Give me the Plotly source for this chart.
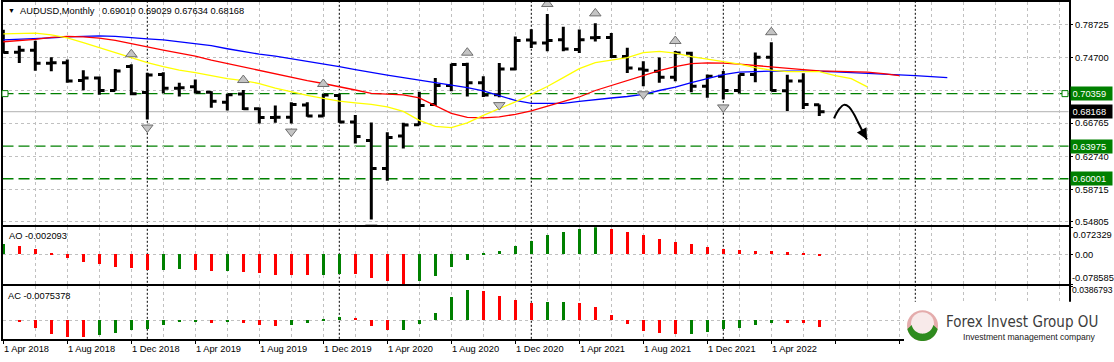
import math
import plotly.graph_objects as go

# ---------------- data ----------------
months = ["Apr 2018", "May 2018", "Jun 2018", "Jul 2018", "Aug 2018", "Sep 2018", "Oct 2018", "Nov 2018", "Dec 2018",
          "Jan 2019", "Feb 2019", "Mar 2019", "Apr 2019", "May 2019", "Jun 2019", "Jul 2019", "Aug 2019", "Sep 2019",
          "Oct 2019", "Nov 2019", "Dec 2019", "Jan 2020", "Feb 2020", "Mar 2020", "Apr 2020", "May 2020", "Jun 2020",
          "Jul 2020", "Aug 2020", "Sep 2020", "Oct 2020", "Nov 2020", "Dec 2020", "Jan 2021", "Feb 2021", "Mar 2021",
          "Apr 2021", "May 2021", "Jun 2021", "Jul 2021", "Aug 2021", "Sep 2021", "Oct 2021", "Nov 2021", "Dec 2021",
          "Jan 2022", "Feb 2022", "Mar 2022", "Apr 2022", "May 2022", "Jun 2022", "Jul 2022"]

opens = [0.7690, 0.7540, 0.7565, 0.7405, 0.7412, 0.7195, 0.7225, 0.7075, 0.7365,
         0.7050, 0.7268, 0.7100, 0.7120, 0.7054, 0.6932, 0.7030, 0.6853, 0.6744,
         0.6750, 0.6899, 0.6763, 0.7014, 0.6691, 0.6465, 0.6126, 0.6521, 0.6656,
         0.6905, 0.7135, 0.7389, 0.7167, 0.7022, 0.7336, 0.7688, 0.7651, 0.7692,
         0.7574, 0.7715, 0.7719, 0.7489, 0.7335, 0.7308, 0.7235, 0.7526, 0.7126,
         0.7247, 0.7074, 0.7268, 0.7477, 0.7070, 0.7190, 0.69010]
highs = [0.7812, 0.7618, 0.7680, 0.7480, 0.7452, 0.7320, 0.7245, 0.7336, 0.7394,
         0.7290, 0.7296, 0.7168, 0.7207, 0.7064, 0.7030, 0.7080, 0.6866, 0.6890,
         0.6930, 0.6930, 0.7032, 0.7031, 0.6775, 0.6685, 0.6565, 0.6683, 0.7060,
         0.7225, 0.7400, 0.7413, 0.7247, 0.7409, 0.7731, 0.7820, 0.8005, 0.7850,
         0.7815, 0.7891, 0.7775, 0.7595, 0.7429, 0.7475, 0.7555, 0.7545, 0.7270,
         0.7310, 0.7268, 0.7537, 0.7662, 0.7266, 0.7283, 0.69029]
lows = [0.7530, 0.7409, 0.7315, 0.7308, 0.7168, 0.7078, 0.7023, 0.7070, 0.7015,
        0.6720, 0.7040, 0.7000, 0.7040, 0.6865, 0.6832, 0.6836, 0.6671, 0.6683,
        0.6671, 0.6756, 0.6756, 0.6683, 0.6430, 0.5506, 0.5977, 0.6368, 0.6650,
        0.6884, 0.7066, 0.7000, 0.6995, 0.6993, 0.7320, 0.7590, 0.7550, 0.7550,
        0.7530, 0.7671, 0.7469, 0.7288, 0.7125, 0.7167, 0.7187, 0.7054, 0.6986,
        0.6965, 0.7038, 0.7175, 0.7066, 0.6826, 0.6850, 0.67634]
closes = [0.7537, 0.7565, 0.7405, 0.7412, 0.7190, 0.7225, 0.7075, 0.7312, 0.7035,
          0.7262, 0.7100, 0.7106, 0.7054, 0.6944, 0.7022, 0.6852, 0.6744, 0.6750,
          0.6905, 0.6763, 0.7018, 0.6691, 0.6514, 0.6126, 0.6502, 0.6654, 0.6892,
          0.7135, 0.7389, 0.7167, 0.7018, 0.7336, 0.7683, 0.7651, 0.7683, 0.7578,
          0.7692, 0.7719, 0.7489, 0.7349, 0.7320, 0.7235, 0.7530, 0.7126, 0.7247,
          0.7074, 0.7268, 0.7477, 0.7074, 0.7190, 0.6905, 0.68168]

# Alligator lines (jaw shifted 8 bars, teeth 5, lips 3 into the future)
jaw_blue = [0.7691, 0.7697, 0.7703, 0.7715, 0.7727, 0.7733, 0.7739, 0.7733, 0.7715, 0.7703,
            0.7691, 0.7667, 0.7649, 0.7619, 0.7582, 0.7546, 0.7516, 0.7491, 0.7461, 0.7431,
            0.7401, 0.7365, 0.7328, 0.7292, 0.7262, 0.7231, 0.7201, 0.7171, 0.7141, 0.7110,
            0.7068, 0.7014, 0.6953, 0.6917, 0.6917, 0.6917, 0.6941, 0.6965, 0.6983, 0.7001,
            0.7026, 0.7074, 0.7116, 0.7171, 0.7219, 0.7268, 0.7298, 0.7308, 0.7310, 0.7310,
            0.7310, 0.7308, 0.7300, 0.7292, 0.7286, 0.7280, 0.7268, 0.7255, 0.7243, 0.7231]
teeth_red = [0.7667, 0.7679, 0.7697, 0.7721, 0.7733, 0.7727, 0.7712, 0.7685, 0.7643, 0.7600,
             0.7564, 0.7528, 0.7491, 0.7443, 0.7401, 0.7358, 0.7316, 0.7274, 0.7237, 0.7195,
             0.7159, 0.7123, 0.7080, 0.7038, 0.7032, 0.7020, 0.6983, 0.6892, 0.6796, 0.6747,
             0.6741, 0.6753, 0.6784, 0.6826, 0.6880, 0.6935, 0.6995, 0.7074, 0.7135, 0.7195,
             0.7262, 0.7316, 0.7365, 0.7401, 0.7409, 0.7407, 0.7395, 0.7376, 0.7364, 0.7346,
             0.7328, 0.7312, 0.7309, 0.7306, 0.7298, 0.7280, 0.7255]
lips_yellow = [0.7764, 0.7772, 0.7772, 0.7752, 0.7715, 0.7655, 0.7594, 0.7534, 0.7473, 0.7413,
               0.7365, 0.7322, 0.7292, 0.7256, 0.7219, 0.7195, 0.7159, 0.7104, 0.7056, 0.7014,
               0.6977, 0.6945, 0.6923, 0.6905, 0.6874, 0.6820, 0.6711, 0.6638, 0.6623, 0.6681,
               0.6771, 0.6850, 0.6935, 0.7026, 0.7123, 0.7231, 0.7340, 0.7413, 0.7443, 0.7473,
               0.7534, 0.7549, 0.7528, 0.7485, 0.7455, 0.7425, 0.7395, 0.7352, 0.7322, 0.7304,
               0.7304, 0.7304, 0.7255, 0.7219, 0.7119]

ao_values = [0.0272, 0.0219, 0.0140, 0.0045, -0.0088, -0.0210, -0.0264, -0.0343, -0.0370, -0.0430,
             -0.0420, -0.0400, -0.0425, -0.0449, -0.0440, -0.0475, -0.0501, -0.0554, -0.0556, -0.0558,
             -0.0552, -0.0528, -0.0530, -0.0633, -0.0704, -0.078585, -0.0704, -0.0572, -0.0334, -0.0150,
             0.0020, 0.0088, 0.0220, 0.0360, 0.0500, 0.0580, 0.0660, 0.072329, 0.0680, 0.0600,
             0.0500, 0.0400, 0.0330, 0.0260, 0.0190, 0.0140, 0.0115, 0.0088, 0.0080, 0.0053,
             0.0035, -0.002093]
ac_values = [0.0, -0.0023, -0.0090, -0.0158, -0.0192, -0.0195, -0.0166, -0.0147, -0.0109, -0.0098,
             -0.0056, -0.0023, -0.0015, -0.0034, -0.0023, -0.0034, -0.0060, -0.0068, -0.0056, -0.0034,
             0.0003, 0.0030, 0.0023, -0.0068, -0.0113, -0.0110, -0.0045, 0.0079, 0.0259, 0.0338,
             0.0327, 0.0271, 0.0225, 0.0192, 0.0203, 0.0205, 0.0190, 0.0147, 0.0056, -0.0045,
             -0.0124, -0.0147, -0.0158, -0.0155, -0.0135, -0.0101, -0.0090, -0.0056, -0.0034, -0.0036,
             -0.0038, -0.0075378]

up_fractal_idx = [8, 15, 20, 29, 34, 37, 42, 48]
down_fractal_idx = [9, 18, 23, 31, 40, 45]

price_ticks = [0.78725, 0.74700, 0.70690, 0.66765, 0.62740, 0.58715, 0.54805]
price_tick_text = ["0.78725", "0.74700", "", "0.66765", "0.62740", "0.58715", "0.54805"]
level_lines = [0.70359, 0.63975, 0.60001]
bid_price = 0.68168
ao_max, ao_min = 0.072329, -0.078585
ac_max = 0.0386793
header_symbol = "AUDUSD,Monthly"
header_values = "0.69010 0.69029 0.67634 0.68168"
ao_label = "AO -0.002093"
ac_label = "AC -0.0075378"

# hand-drawn forecast curve (bar index, price)
forecast_x = [51.92, 52.23, 52.54, 52.86, 53.17, 53.48, 53.80]
forecast_y = [0.6735, 0.6844, 0.6899, 0.6874, 0.6784, 0.6663, 0.6542]
forecast_tip = (53.98, 0.6478)

# ---------------- geometry / style ----------------
W, H = 1114, 362
FONT = "Liberation Sans, Arial, sans-serif"
FS = 9.3
GRID = "#c0c0c0"
GREEN = "#008000"
RED = "#ff0000"


def ppy(px):
    return 1 - px / H


def ppx(px):
    return px / W


X_L, X_R = 2.5, 1068.5
BAR_PX = 16.0
x_lo = -0.05
x_hi = x_lo + (X_R - X_L) / BAR_PX
MAIN = (2.0, 226.0)
AO_P = (228.5, 285.7)
AC_P = (287.7, 340.7)
price_range = [0.54406, 0.81508]
ac_range = [-0.02109, ac_max]
px_per_price = (MAIN[1] - MAIN[0]) / (price_range[1] - price_range[0])

idx = list(range(len(months)))

fig = go.Figure()

# Alligator lines
for vals, col in [(jaw_blue, "#0000ff"), (teeth_red, "#ff0000"), (lips_yellow, "#ffff00")]:
    fig.add_trace(go.Scatter(x=list(range(len(vals))), y=vals, mode="lines",
                             line=dict(color=col, width=1.3), xaxis="x", yaxis="y", hoverinfo="skip"))

# price bars
fig.add_trace(go.Ohlc(x=idx, open=opens, high=highs, low=lows, close=closes,
                      increasing=dict(line=dict(color="black", width=3)),
                      decreasing=dict(line=dict(color="black", width=3)),
                      tickwidth=0.33, xaxis="x", yaxis="y", hoverinfo="skip"))

# fractals
up_off = 10 / px_per_price
dn_off = 8 / px_per_price
fig.add_trace(go.Scatter(x=up_fractal_idx, y=[highs[i] + up_off for i in up_fractal_idx], mode="markers",
                         marker=dict(symbol="triangle-up", size=10, color="#c4c4c4",
                                     line=dict(color="#6e6e6e", width=1)),
                         xaxis="x", yaxis="y", hoverinfo="skip"))
fig.add_trace(go.Scatter(x=down_fractal_idx, y=[lows[i] - dn_off for i in down_fractal_idx], mode="markers",
                         marker=dict(symbol="triangle-down", size=10, color="#c4c4c4",
                                     line=dict(color="#6e6e6e", width=1)),
                         xaxis="x", yaxis="y", hoverinfo="skip"))

# forecast curve
fig.add_trace(go.Scatter(x=forecast_x + [forecast_tip[0]], y=forecast_y + [forecast_tip[1]], mode="lines",
                         line=dict(color="black", width=2, shape="spline"), xaxis="x", yaxis="y",
                         hoverinfo="skip"))


def bar_colors(vals):
    cols = []
    for i, v in enumerate(vals):
        if i == 0 or v >= vals[i - 1]:
            cols.append(GREEN)
        else:
            cols.append(RED)
    return cols


fig.add_trace(go.Bar(x=idx, y=ao_values, width=0.19, marker=dict(color=bar_colors(ao_values), line=dict(width=0)),
                     xaxis="x2", yaxis="y2", hoverinfo="skip"))
fig.add_trace(go.Bar(x=idx, y=ac_values, width=0.19, marker=dict(color=bar_colors(ac_values), line=dict(width=0)),
                     xaxis="x3", yaxis="y3", hoverinfo="skip"))

major_x = [i for i in range(0, int(x_hi) + 1) if i % 4 == 0]
minor_x = [i for i in range(0, int(x_hi) + 1) if i % 4 == 2]


def xax(anchor, ticks=""):
    return dict(domain=[ppx(X_L), ppx(X_R)], range=[x_lo, x_hi], anchor=anchor,
                showline=True, mirror=True, linecolor="black", linewidth=1.5,
                tickmode="array", tickvals=major_x, showticklabels=False,
                ticks=ticks, ticklen=3, tickcolor="black", tickwidth=1,
                showgrid=True, gridcolor=GRID, gridwidth=1, griddash="3px,3px", zeroline=False,
                minor=dict(tickvals=minor_x, showgrid=True, gridcolor=GRID, gridwidth=1,
                           griddash="3px,3px", ticks=""),
                fixedrange=True)


def yax(dom, rng, anchor, tv, tt, grid=True):
    return dict(domain=[ppy(dom[1]), ppy(dom[0])], range=rng, anchor=anchor, side="right",
                showline=True, mirror=True, linecolor="black", linewidth=1.5,
                tickmode="array", tickvals=tv, ticktext=tt, ticks="outside", ticklen=3,
                tickcolor="black", tickwidth=1,
                tickfont=dict(family=FONT, size=FS, color="black"),
                showgrid=grid, gridcolor=GRID, gridwidth=1, griddash="3px,3px", zeroline=False,
                fixedrange=True)


x1 = xax("y")
x1["rangeslider"] = dict(visible=False)

shapes = []
# level lines and bid line
for lv in level_lines:
    shapes.append(dict(type="line", xref="x domain", x0=0, x1=1, yref="y", y0=lv, y1=lv,
                       line=dict(color=GREEN, width=1.4, dash="11px,5px"), layer="below"))
shapes.append(dict(type="line", xref="x domain", x0=0, x1=1, yref="y", y0=bid_price, y1=bid_price,
                   line=dict(color="#c0c0c0", width=1.2), layer="below"))
# selection handles of the first level line
for xd in [(5 - X_L) / (X_R - X_L), (1065 - X_L) / (X_R - X_L)]:
    shapes.append(dict(type="rect", xref="x domain", yref="y", xsizemode="pixel", ysizemode="pixel",
                       xanchor=xd, yanchor=level_lines[0], x0=-3, x1=3, y0=-3, y1=3,
                       line=dict(color=GREEN, width=1), fillcolor="white", layer="above"))
# year separators
month_names = ["Apr", "May", "Jun", "Jul", "Aug", "Sep", "Oct", "Nov", "Dec", "Jan", "Feb", "Mar"]
for i in range(0, int(x_hi) + 1):
    if month_names[i % 12] == "Jan":
        shapes.append(dict(type="line", xref="x", x0=i, x1=i, yref="paper", y0=ppy(AC_P[1]), y1=ppy(MAIN[0]),
                           line=dict(color="black", width=1, dash="2px,2px"), layer="below"))

# logo block
shapes.append(dict(type="rect", xref="paper", yref="paper", x0=ppx(904), x1=1.0, y0=ppy(351), y1=ppy(303.5),
                   fillcolor="white", line=dict(width=0), layer="above"))
cx, cy, R = 922.5, 327.5, 15.5
shapes.append(dict(type="circle", xref="paper", yref="paper", x0=ppx(cx - R), x1=ppx(cx + R),
                   y0=ppy(cy + R), y1=ppy(cy - R), fillcolor="#e4acac", line=dict(width=0), layer="above"))
shapes.append(dict(type="circle", xref="paper", yref="paper", x0=ppx(cx - 11.5), x1=ppx(cx + 11.5),
                   y0=ppy(cy - 2 + 11.5), y1=ppy(cy - 2 - 11.5), fillcolor="#f8eaea", line=dict(width=0),
                   layer="above"))
pts = []
for k in range(0, 31):
    t = math.radians(12 + k * (156 / 30))
    pts.append((cx + R * math.cos(t), cy + R * math.sin(t)))
for k in range(30, -1, -1):
    t = math.radians(12 + k * (156 / 30))
    pts.append((cx + 11 * math.cos(t), cy - 3 + 11 * math.sin(t)))
path = "M " + " L ".join(f"{ppx(a):.6f},{ppy(b):.6f}" for a, b in pts) + " Z"
shapes.append(dict(type="path", xref="paper", yref="paper", path=path, fillcolor="#2e8b1e",
                   line=dict(width=0), layer="above"))

annotations = []


def txt(text, xpx, ypx, size=FS, color="black", anchor="left", family=FONT, **kw):
    annotations.append(dict(text=text, xref="paper", yref="paper", x=ppx(xpx), y=ppy(ypx), xanchor=anchor,
                            yanchor="middle", showarrow=False, font=dict(family=family, size=size, color=color),
                            borderpad=0, **kw))


txt("▼", 6.5, 11, size=7)
txt(header_symbol, 18.5, 11)
txt(header_values, 101, 11)
txt(ao_label, 7.5, 237)
txt(ac_label, 7, 297.5)
txt(f"{ao_max:.6f}", 1072, 236)
txt(f"{ao_min:.6f}", 1071, 279.5)
txt(f"{ac_max:.7f}", 1070.5, 292, size=8.6)

for i in major_x:
    if i < len(months):
        annotations.append(dict(text="1 " + months[i], xref="x3", yref="paper", x=i, y=ppy(350.5),
                                xanchor="left", yanchor="middle", xshift=0, showarrow=False,
                                font=dict(family=FONT, size=FS, color="black"), borderpad=0))

# right-side price boxes
for val, bg in [(level_lines[0], GREEN), (bid_price, "black"), (level_lines[1], GREEN), (level_lines[2], GREEN)]:
    annotations.append(dict(text=f"{val:.5f}", xref="paper", yref="y", x=ppx(1069.5), y=val,
                            xanchor="left", yanchor="middle", showarrow=False, bgcolor=bg,
                            font=dict(family=FONT, size=FS, color="white"), borderpad=1.5, width=38,
                            align="left"))

# forecast arrow head
annotations.append(dict(text="", xref="x", yref="y", x=forecast_tip[0], y=forecast_tip[1],
                        axref="x", ayref="y", ax=forecast_x[-1], ay=forecast_y[-1], showarrow=True,
                        arrowhead=2, arrowsize=1.1, arrowwidth=2, arrowcolor="black"))

# logo texts
txt("Forex Invest Group OU", 945, 323.5, size=15, color="#3c3c3c",
    family="Liberation Sans Narrow, DejaVu Sans Condensed, Liberation Sans")
txt("Investment management company", 962, 339, size=8.6, color="#202020")

fig.update_layout(
    width=W, height=H, margin=dict(l=0, r=0, t=0, b=0, pad=0),
    paper_bgcolor="white", plot_bgcolor="rgba(0,0,0,0)", showlegend=False, bargap=0,
    font=dict(family=FONT, size=FS, color="black"),
    xaxis=x1, xaxis2=xax("y2"), xaxis3=xax("y3", ticks="outside"),
    yaxis=yax(MAIN, price_range, "x", price_ticks, price_tick_text),
    yaxis2=yax(AO_P, [ao_min, ao_max], "x2", [ao_max, 0, ao_min], ["", "0.00", ""]),
    yaxis3=yax(AC_P, ac_range, "x3", [ac_max, 0], ["", ""]),
    shapes=shapes, annotations=annotations, hovermode=False,
)

fig.write_html("out.html")
